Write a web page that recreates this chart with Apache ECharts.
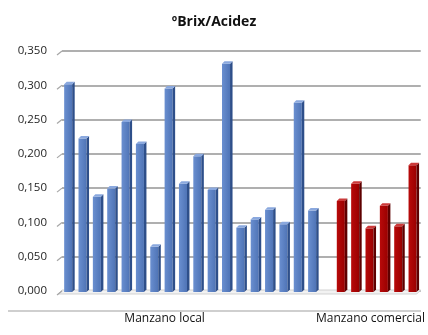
<!DOCTYPE html>
<html>
<head>
<meta charset="utf-8">
<script src="https://cdn.jsdelivr.net/npm/echarts@6/dist/echarts.min.js"></script>
<style>
  html, body { margin: 0; padding: 0; background: #fff; }
  #chart { width: 428px; height: 335px; }
</style>
</head>
<body>
<div id="chart"></div>
<script>
// ºBrix/Acidez ratio per sample
const categories = [
  '', '', '', '', '', '', '', 'Manzano local', '', '', '', '', '', '', '', '', '', '',
  '',
  '', '', 'Manzano comercial', '', '', ''
];
const manzanoLocal = [0.305, 0.226, 0.141, 0.153, 0.250, 0.218, 0.068, 0.299, 0.160,
                      0.200, 0.151, 0.335, 0.096, 0.108, 0.122, 0.101, 0.278, 0.121];
const manzanoComercial = [0.135, 0.160, 0.095, 0.128, 0.098, 0.187];
const comercialStart = 19;
const yTicks = [0, 0.05, 0.1, 0.15, 0.2, 0.25, 0.3, 0.35];

const localData = manzanoLocal.map((v, i) => [i, v]);
const comercialData = manzanoComercial.map((v, i) => [comercialStart + i, v]);

// Column drawn with a front face, a darker right side and a lighter top
function columnRenderer(front, side, top) {
  return function (params, api) {
    const idx = api.value(0);
    const val = api.value(1);
    const pTop = api.coord([idx, val]);
    const pBase = api.coord([idx, 0]);
    const slot = api.size([1, 0])[0];
    const w = slot * 0.56;
    const d = 2.5;
    const x0 = pTop[0] - w / 2 - 1;
    const yt = pTop[1] + d;
    const yb = pBase[1] + 1;
    return {
      type: 'group',
      children: [
        {
          type: 'rect',
          shape: { x: x0, y: yt, width: w, height: yb - yt },
          style: {
            fill: new echarts.graphic.LinearGradient(0, 0, 1, 0, [
              { offset: 0, color: front[0] },
              { offset: 1, color: front[1] }
            ])
          }
        },
        {
          type: 'polygon',
          shape: { points: [[x0 + w, yt], [x0 + w + d, yt - d], [x0 + w + d, yb - d], [x0 + w, yb]] },
          style: { fill: side }
        },
        {
          type: 'polygon',
          shape: { points: [[x0, yt], [x0 + d, yt - d], [x0 + w + d, yt - d], [x0 + w, yt]] },
          style: { fill: top }
        }
      ]
    };
  };
}

// Short slanted segments of the left side wall at each gridline
function sideWallRenderer(params, api) {
  const v = api.value(0);
  const p = api.coord([0, v]);
  const slot = api.size([1, 0])[0];
  const xl = p[0] - slot / 2;
  return {
    type: 'line',
    shape: { x1: xl - 5, y1: p[1] + 4, x2: xl, y2: p[1] },
    style: { stroke: '#a6a6a6', lineWidth: 1.2 }
  };
}

// Floor of the plot area
function floorRenderer(params, api) {
  const a = api.coord([0, 0]);
  const b = api.coord([categories.length - 1, 0]);
  const slot = api.size([1, 0])[0];
  const xl = a[0] - slot / 2;
  const xr = b[0] + slot / 2;
  const y = a[1];
  return {
    type: 'polygon',
    shape: { points: [[xl, y - 1], [xr, y - 1], [xr - 4, y + 3], [xl - 4, y + 3]] },
    style: { fill: '#f2f2f2', stroke: '#c8c8c8', lineWidth: 0.8 }
  };
}

const chart = echarts.init(document.getElementById('chart'));
chart.setOption({
  animation: false,
  backgroundColor: '#fff',
  title: {
    text: 'ºBrix/Acidez',
    left: 'center',
    top: 10,
    textStyle: { fontFamily: 'Open Sans', fontWeight: 'bold', fontSize: 14, color: '#111' }
  },
  grid: { left: 62, right: 6, top: 51, bottom: 44 },
  xAxis: {
    type: 'category',
    data: categories,
    boundaryGap: true,
    axisLine: { show: false },
    axisTick: { show: false },
    axisLabel: {
      interval: 0,
      margin: 22,
      fontFamily: 'Open Sans',
      fontSize: 12,
      color: '#111',
      formatter: function (v) {
        if (v === 'Manzano local') return '{l|' + v + '}';
        return v;
      },
      rich: { l: { padding: [0, 10, 0, 0], fontFamily: 'Open Sans', fontSize: 12, color: '#111' } }
    }
  },
  yAxis: {
    type: 'value',
    min: 0,
    max: 0.35,
    interval: 0.05,
    axisLine: { show: false },
    axisTick: { show: false },
    splitLine: { lineStyle: { color: '#959595', width: 1.5 } },
    axisLabel: {
      margin: 15,
      padding: [10, 0, 0, 0],
      fontFamily: 'Open Sans',
      fontSize: 11.5,
      color: '#1f1f1f',
      formatter: v => v.toFixed(3).replace('.', ',')
    }
  },
  graphic: [
    {
      type: 'line',
      shape: { x1: 8, y1: 311, x2: 421, y2: 311 },
      style: { stroke: '#a0a0a0', lineWidth: 1.2 }
    }
  ],
  series: [
    {
      type: 'custom',
      renderItem: floorRenderer,
      data: [[0]],
      silent: true,
      z: 1
    },
    {
      type: 'custom',
      renderItem: sideWallRenderer,
      data: yTicks.map(v => [v]),
      encode: { y: 0 },
      silent: true,
      z: 1
    },
    {
      name: 'Manzano local',
      type: 'custom',
      renderItem: columnRenderer(['#6a8fd0', '#4f74b6'], '#2e4f8a', '#8aa8de'),
      data: localData,
      encode: { x: 0, y: 1 },
      z: 3
    },
    {
      name: 'Manzano comercial',
      type: 'custom',
      renderItem: columnRenderer(['#b80a0a', '#9a0000'], '#5e0000', '#cc3a3a'),
      data: comercialData,
      encode: { x: 0, y: 1 },
      z: 3
    }
  ]
});
</script>
</body>
</html>
